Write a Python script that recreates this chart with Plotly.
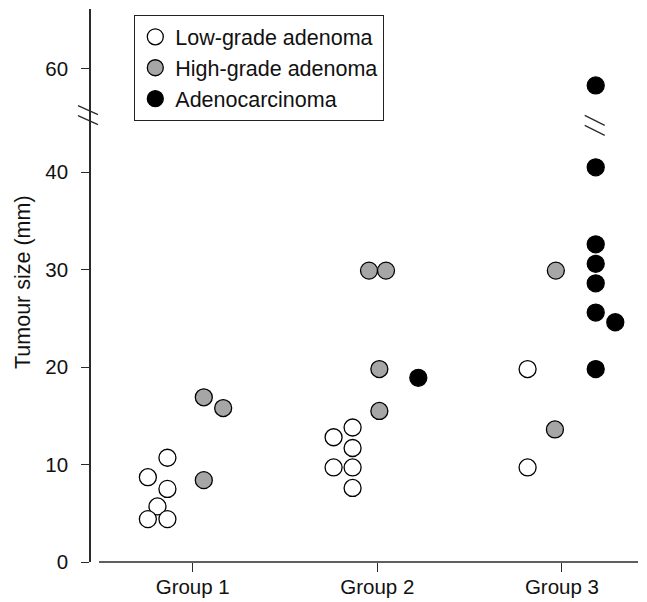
import plotly.graph_objects as go

# ---------------- data ----------------
group_labels = ["Group 1", "Group 2", "Group 3"]
group_pos = [1, 2, 3]

# Low-grade adenoma
low_group = [1, 1, 1, 1, 1, 1, 2, 2, 2, 2, 2, 2, 3, 3]
low_offset = [-0.137, -0.243, -0.137, -0.191, -0.243, -0.137,
              -0.134, -0.237, -0.134, -0.237, -0.134, -0.134,
              -0.186, -0.186]
low_size = [10.7, 8.7, 7.5, 5.7, 4.4, 4.4,
            13.8, 12.8, 11.7, 9.7, 9.7, 7.6,
            19.8, 9.7]

# High-grade adenoma
high_group = [1, 1, 1, 2, 2, 2, 2, 3, 3]
high_offset = [0.060, 0.165, 0.060,
               -0.045, 0.047, 0.011, 0.011,
               -0.033, -0.038]
high_size = [16.9, 15.8, 8.4,
             29.9, 29.9, 19.8, 15.5,
             29.9, 13.6]

# Adenocarcinoma
ca_group = [2, 3, 3, 3, 3, 3, 3, 3, 3]
ca_offset = [0.222, 0.183, 0.183, 0.183, 0.183, 0.183, 0.183, 0.289, 0.183]
ca_size = [18.9, 58.6, 40.5, 32.6, 30.6, 28.6, 25.6, 24.6, 19.8]

y_tick_values = [0, 10, 20, 30, 40, 60]

# ---------------- axis break ----------------
BREAK_AT = 45.0
BREAK_SHIFT = 9.7


def disp(v):
    return v if v < BREAK_AT else v - BREAK_SHIFT


FONT = "Liberation Sans, Arial, Helvetica, sans-serif"
FS = 20.5
AX = "#2a2a2a"

# the page adds an 8px body margin; the figure is sized to fill the rest
W, H = 639, 594
ML, MR, MT, MB = 83, 9, 1, 40
PW, PH = W - ML - MR, H - MT - MB   # 547 x 553 plot area

fig = go.Figure()


def add(name, groups, offsets, sizes, fill):
    fig.add_trace(go.Scatter(
        x=[g + o for g, o in zip(groups, offsets)],
        y=[disp(v) for v in sizes],
        mode="markers",
        name=name,
        marker=dict(size=17, color=fill, line=dict(color="black", width=1.3)),
        cliponaxis=False,
    ))


add("Low-grade adenoma", low_group, low_offset, low_size, "white")
add("High-grade adenoma", high_group, high_offset, high_size, "#a6a6a6")
add("Adenocarcinoma", ca_group, ca_offset, ca_size, "black")

# break marks (y axis and in the Group 3 column)
shapes = []
for dy in (0, -10):
    shapes.append(dict(type="line", xref="paper", yref="y",
                       xsizemode="pixel", ysizemode="pixel",
                       xanchor=0, yanchor=45.8,
                       x0=-13, x1=7, y0=10 + dy, y1=1 + dy,
                       line=dict(color=AX, width=1.3)))
    shapes.append(dict(type="line", xref="x", yref="y",
                       xsizemode="pixel", ysizemode="pixel",
                       xanchor=3 + 0.183, yanchor=44.8,
                       x0=-11, x1=9, y0=10 + dy, y1=0 + dy,
                       line=dict(color=AX, width=1.3)))

# detached x axis line
shapes.append(dict(type="line", xref="paper", yref="paper",
                   x0=8 / PW, x1=1, y0=0, y1=0,
                   line=dict(color=AX, width=1.5)))

fig.update_layout(
    width=W, height=H,
    margin=dict(l=ML, r=MR, t=MT, b=MB, autoexpand=False),
    paper_bgcolor="white", plot_bgcolor="white",
    font=dict(family=FONT, size=FS, color="#111"),
    showlegend=True,
    legend=dict(x=(134 - 91) / PW, y=(562 - 15) / PH,
                xanchor="left", yanchor="top",
                bordercolor="#222", borderwidth=1.3,
                bgcolor="white", font=dict(size=21.5),
                itemwidth=30, tracegroupgap=0),
    shapes=shapes,
    annotations=[dict(text="Tumour size (mm)", xref="paper", yref="paper",
                      x=(23 - 91) / PW, y=(562 - 282) / PH,
                      xanchor="center", yanchor="middle", textangle=-90,
                      showarrow=False, font=dict(size=21.5, family=FONT))],
)

fig.update_xaxes(
    range=[0.449, 3.412],
    tickvals=group_pos, ticktext=group_labels,
    showline=False, showgrid=False, zeroline=False,
    ticks="outside", ticklen=9, tickwidth=1.3, tickcolor=AX,
    ticklabelstandoff=-3, automargin=False,
)
fig.update_yaxes(
    range=[0, PH / 9.745],
    tickvals=[disp(v) if v < BREAK_AT else v - BREAK_SHIFT + 0.3 for v in y_tick_values],
    ticktext=[str(v) for v in y_tick_values],
    showline=True, linecolor=AX, linewidth=1.5,
    showgrid=False, zeroline=False,
    ticks="outside", ticklen=8, tickwidth=1.3, tickcolor=AX,
    ticklabelstandoff=9, automargin=False,
)

fig.write_html("out.html")
